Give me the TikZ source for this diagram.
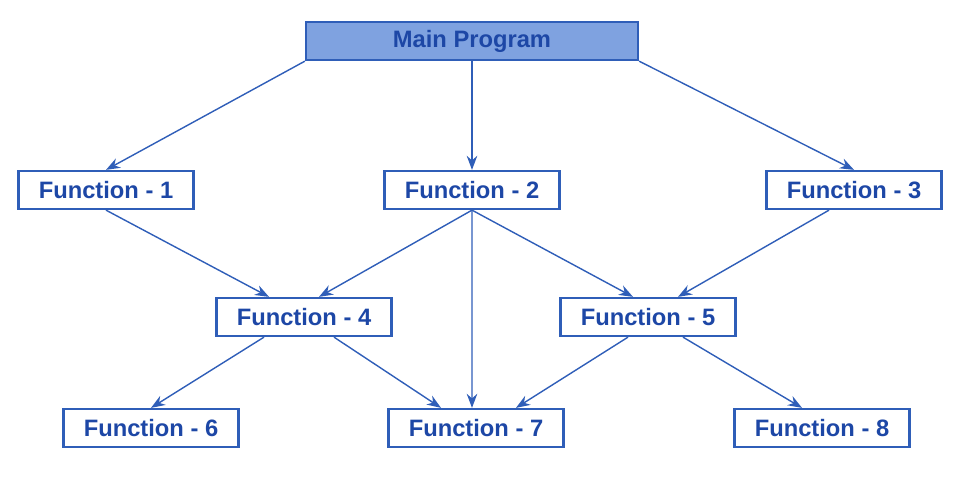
\documentclass[tikz,border=0pt]{standalone}
\usepackage{fontspec}
\setmainfont{Liberation Sans}
\usetikzlibrary{arrows.meta}
\definecolor{lineblue}{HTML}{2F5EB8}
\definecolor{textblue}{HTML}{1D47A6}
\definecolor{mainfill}{HTML}{7FA2E0}
\begin{document}
\begin{tikzpicture}[x=0.02cm,y=-0.02cm,
 font=\fontsize{13.5}{15}\selectfont\bfseries, >={Stealth[length=8pt,width=6pt]},
 func/.style={draw=lineblue,line width=1.3pt,fill=white,text=textblue,
 minimum width=3.5cm,minimum height=0.76cm},
 prog/.style={func,fill=mainfill,minimum width=6.64cm},
 link/.style={->,lineblue,line width=0.8pt}]
 \useasboundingbox (0,0) rectangle (980,498);
 \node[prog] (main) at (472,41) {Main Program};
 \node[func] (f1) at (106,190) {Function - 1};
 \node[func] (f2) at (472,190) {Function - 2};
 \node[func] (f3) at (854,190) {Function - 3};
 \node[func] (f4) at (304,317) {Function - 4};
 \node[func] (f5) at (648,317) {Function - 5};
 \node[func] (f6) at (151,428) {Function - 6};
 \node[func] (f7) at (476,428) {Function - 7};
 \node[func] (f8) at (822,428) {Function - 8};
 % main program calls
 \draw[link] (main.south west) -- (f1.north);
 \draw[link] (main.south) -- (f2.north);
 \draw[link] (main.south east) -- (f3.north);
 % second level
 \draw[link] (f1.south) -- ([xshift=-0.7cm]f4.north);
 \draw[link] (f2.south) -- ([xshift=0.3cm]f4.north);
 \draw[link] (f2.south) -- ([xshift=-0.08cm]f7.north);
 \draw[link] (f2.south) -- ([xshift=-0.3cm]f5.north);
 \draw[link] ([xshift=-0.5cm]f3.south) -- ([xshift=0.6cm]f5.north);
 % third level
 \draw[link] ([xshift=-0.8cm]f4.south) -- (f6.north);
 \draw[link] ([xshift=0.6cm]f4.south) -- ([xshift=-0.7cm]f7.north);
 \draw[link] ([xshift=-0.4cm]f5.south) -- ([xshift=0.8cm]f7.north);
 \draw[link] ([xshift=0.7cm]f5.south) -- ([xshift=-0.4cm]f8.north);
\end{tikzpicture}
\end{document}
